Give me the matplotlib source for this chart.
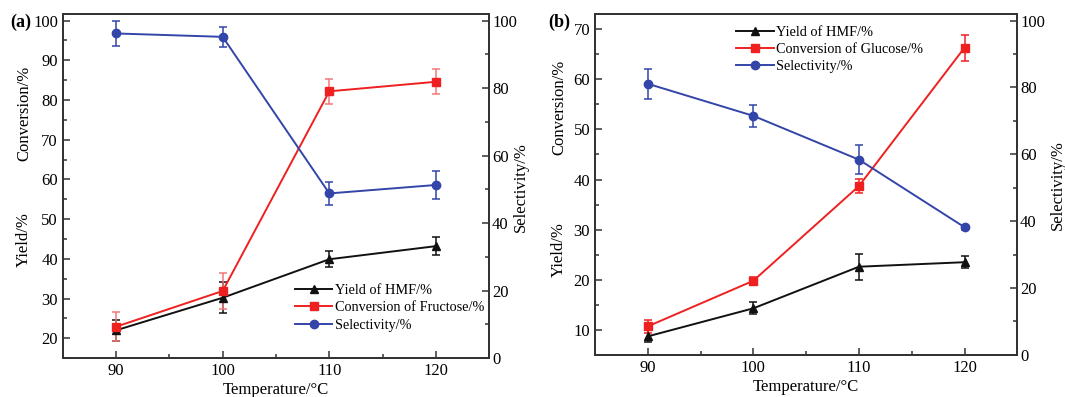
"""
HMF yield / sugar conversion / selectivity vs temperature, two panels
"""

import matplotlib
matplotlib.use("Agg")
import matplotlib.pyplot as plt
from matplotlib.ticker import MultipleLocator

plt.rcParams["font.family"] = ["Liberation Serif", "DejaVu Serif"]

temps = [90, 100, 110, 120]

# panel (a) - fructose
yield_a = [22.0, 30.2, 39.9, 43.2]
yield_a_err = [2.7, 3.9, 2.0, 2.2]
conv_a = [22.9, 31.9, 82.2, 84.6]
conv_a_err = [3.6, 4.6, 3.1, 3.2]
sel_a = [96.2, 95.2, 48.8, 51.3]
sel_a_err = [3.7, 3.0, 3.4, 4.1]

# panel (b) - glucose
yield_b = [8.7, 14.3, 22.6, 23.5]
yield_b_err = [1.2, 1.2, 2.6, 1.2]
conv_b = [10.7, 19.8, 38.7, 66.3]
conv_b_err = [1.3, 0.8, 1.4, 2.6]
sel_b = [81.1, 71.5, 58.4, 38.2]
sel_b_err = [4.5, 3.3, 4.4, 0.8]

BLACK = "#111111"
RED = "#ee2020"
BLUE = "#3345a8"
SPINE = "#333333"


def style_axes(ax, ax2, ylim, ymaj, ymin):
    ax.set_xlim(85, 125)
    ax.set_ylim(*ylim)
    ax2.set_ylim(0, 102)
    ax.xaxis.set_major_locator(MultipleLocator(10))
    ax.xaxis.set_minor_locator(MultipleLocator(5))
    ax.yaxis.set_major_locator(MultipleLocator(ymaj))
    ax.yaxis.set_minor_locator(MultipleLocator(ymin))
    ax2.yaxis.set_major_locator(MultipleLocator(20))
    ax2.yaxis.set_minor_locator(MultipleLocator(10))
    for a in (ax, ax2):
        a.tick_params(which="both", direction="in", labelsize=12,
                      color=SPINE, width=1.1)
        a.tick_params(which="major", length=5)
        a.tick_params(which="minor", length=3)
        a.tick_params(axis="x", top=False)
        for s in a.spines.values():
            s.set_linewidth(1.3)
            s.set_color(SPINE)
    ax2.tick_params(axis="y", pad=2)
    ax.set_xlabel("Temperature/°C", fontsize=12, labelpad=2)


def draw_panel(fig, rect, yv, ye, cv, ce, sv, se, conv_label, ylim, ymaj, ymin,
               red_err=RED):
    ax = fig.add_axes(rect)
    ax2 = ax.twinx()
    kw = dict(capsize=2.8, elinewidth=1.1, capthick=1.1, lw=1.4, ms=6)
    h1 = ax.errorbar(temps, yv, yerr=ye, color=BLACK, marker="^", **kw)
    h2 = ax.errorbar(temps, cv, yerr=ce, color=RED, ecolor=red_err, marker="s", **kw)
    h3 = ax2.errorbar(temps, sv, yerr=se, color=BLUE, marker="o", **kw)
    style_axes(ax, ax2, ylim, ymaj, ymin)
    handles = [h1[0], h2[0], h3[0]]
    labels = ["Yield of HMF/%", conv_label, "Selectivity/%"]
    return ax, ax2, handles, labels


fig = plt.figure(figsize=(10.65, 3.97), dpi=100)
leg_kw = dict(loc="upper left", frameon=False, fontsize=10.3, borderpad=0,
              borderaxespad=0, handlelength=2.6, handletextpad=0.15,
              labelspacing=0.3)

ax, ax2, hs, ls = draw_panel(
    fig, [0.0589, 0.098, 0.4005, 0.867],
    yield_a, yield_a_err, conv_a, conv_a_err, sel_a, sel_a_err,
    "Conversion of Fructose/%", (15, 101.7), 10, 5, red_err="#f27878")
ax2.legend(hs, ls, bbox_to_anchor=(0.545, 0.215), **leg_kw)

bx, bx2, hs, ls = draw_panel(
    fig, [0.5587, 0.106, 0.3965, 0.859],
    yield_b, yield_b_err, conv_b, conv_b_err, sel_b, sel_b_err,
    "Conversion of Glucose/%", (5, 73.05), 10, 5)
bx2.legend(hs, ls, bbox_to_anchor=(0.335, 0.965), **leg_kw)

# split left labels and right label, placed by hand like the original
lab = dict(fontsize=12, rotation=90, ha="center", va="center")
fig.text(24 / 1065, 1 - 113 / 397, "Conversion/%", **lab)
fig.text(24 / 1065, 1 - 240 / 397, "Yield/%", **lab)
fig.text(521 / 1065, 1 - 187 / 397, "Selectivity/%", **lab)
fig.text(559 / 1065, 1 - 107 / 397, "Conversion/%", **lab)
fig.text(559 / 1065, 1 - 250 / 397, "Yield/%", **lab)
fig.text(1058 / 1065, 1 - 185 / 397, "Selectivity/%", **lab)

fig.text(10 / 1065, 1 - 22 / 397, "(a)", fontsize=13, fontweight="bold", va="center")
fig.text(548 / 1065, 1 - 22 / 397, "(b)", fontsize=13, fontweight="bold", va="center")

fig.savefig("out.png", dpi=100)
print("Saved out.png")
